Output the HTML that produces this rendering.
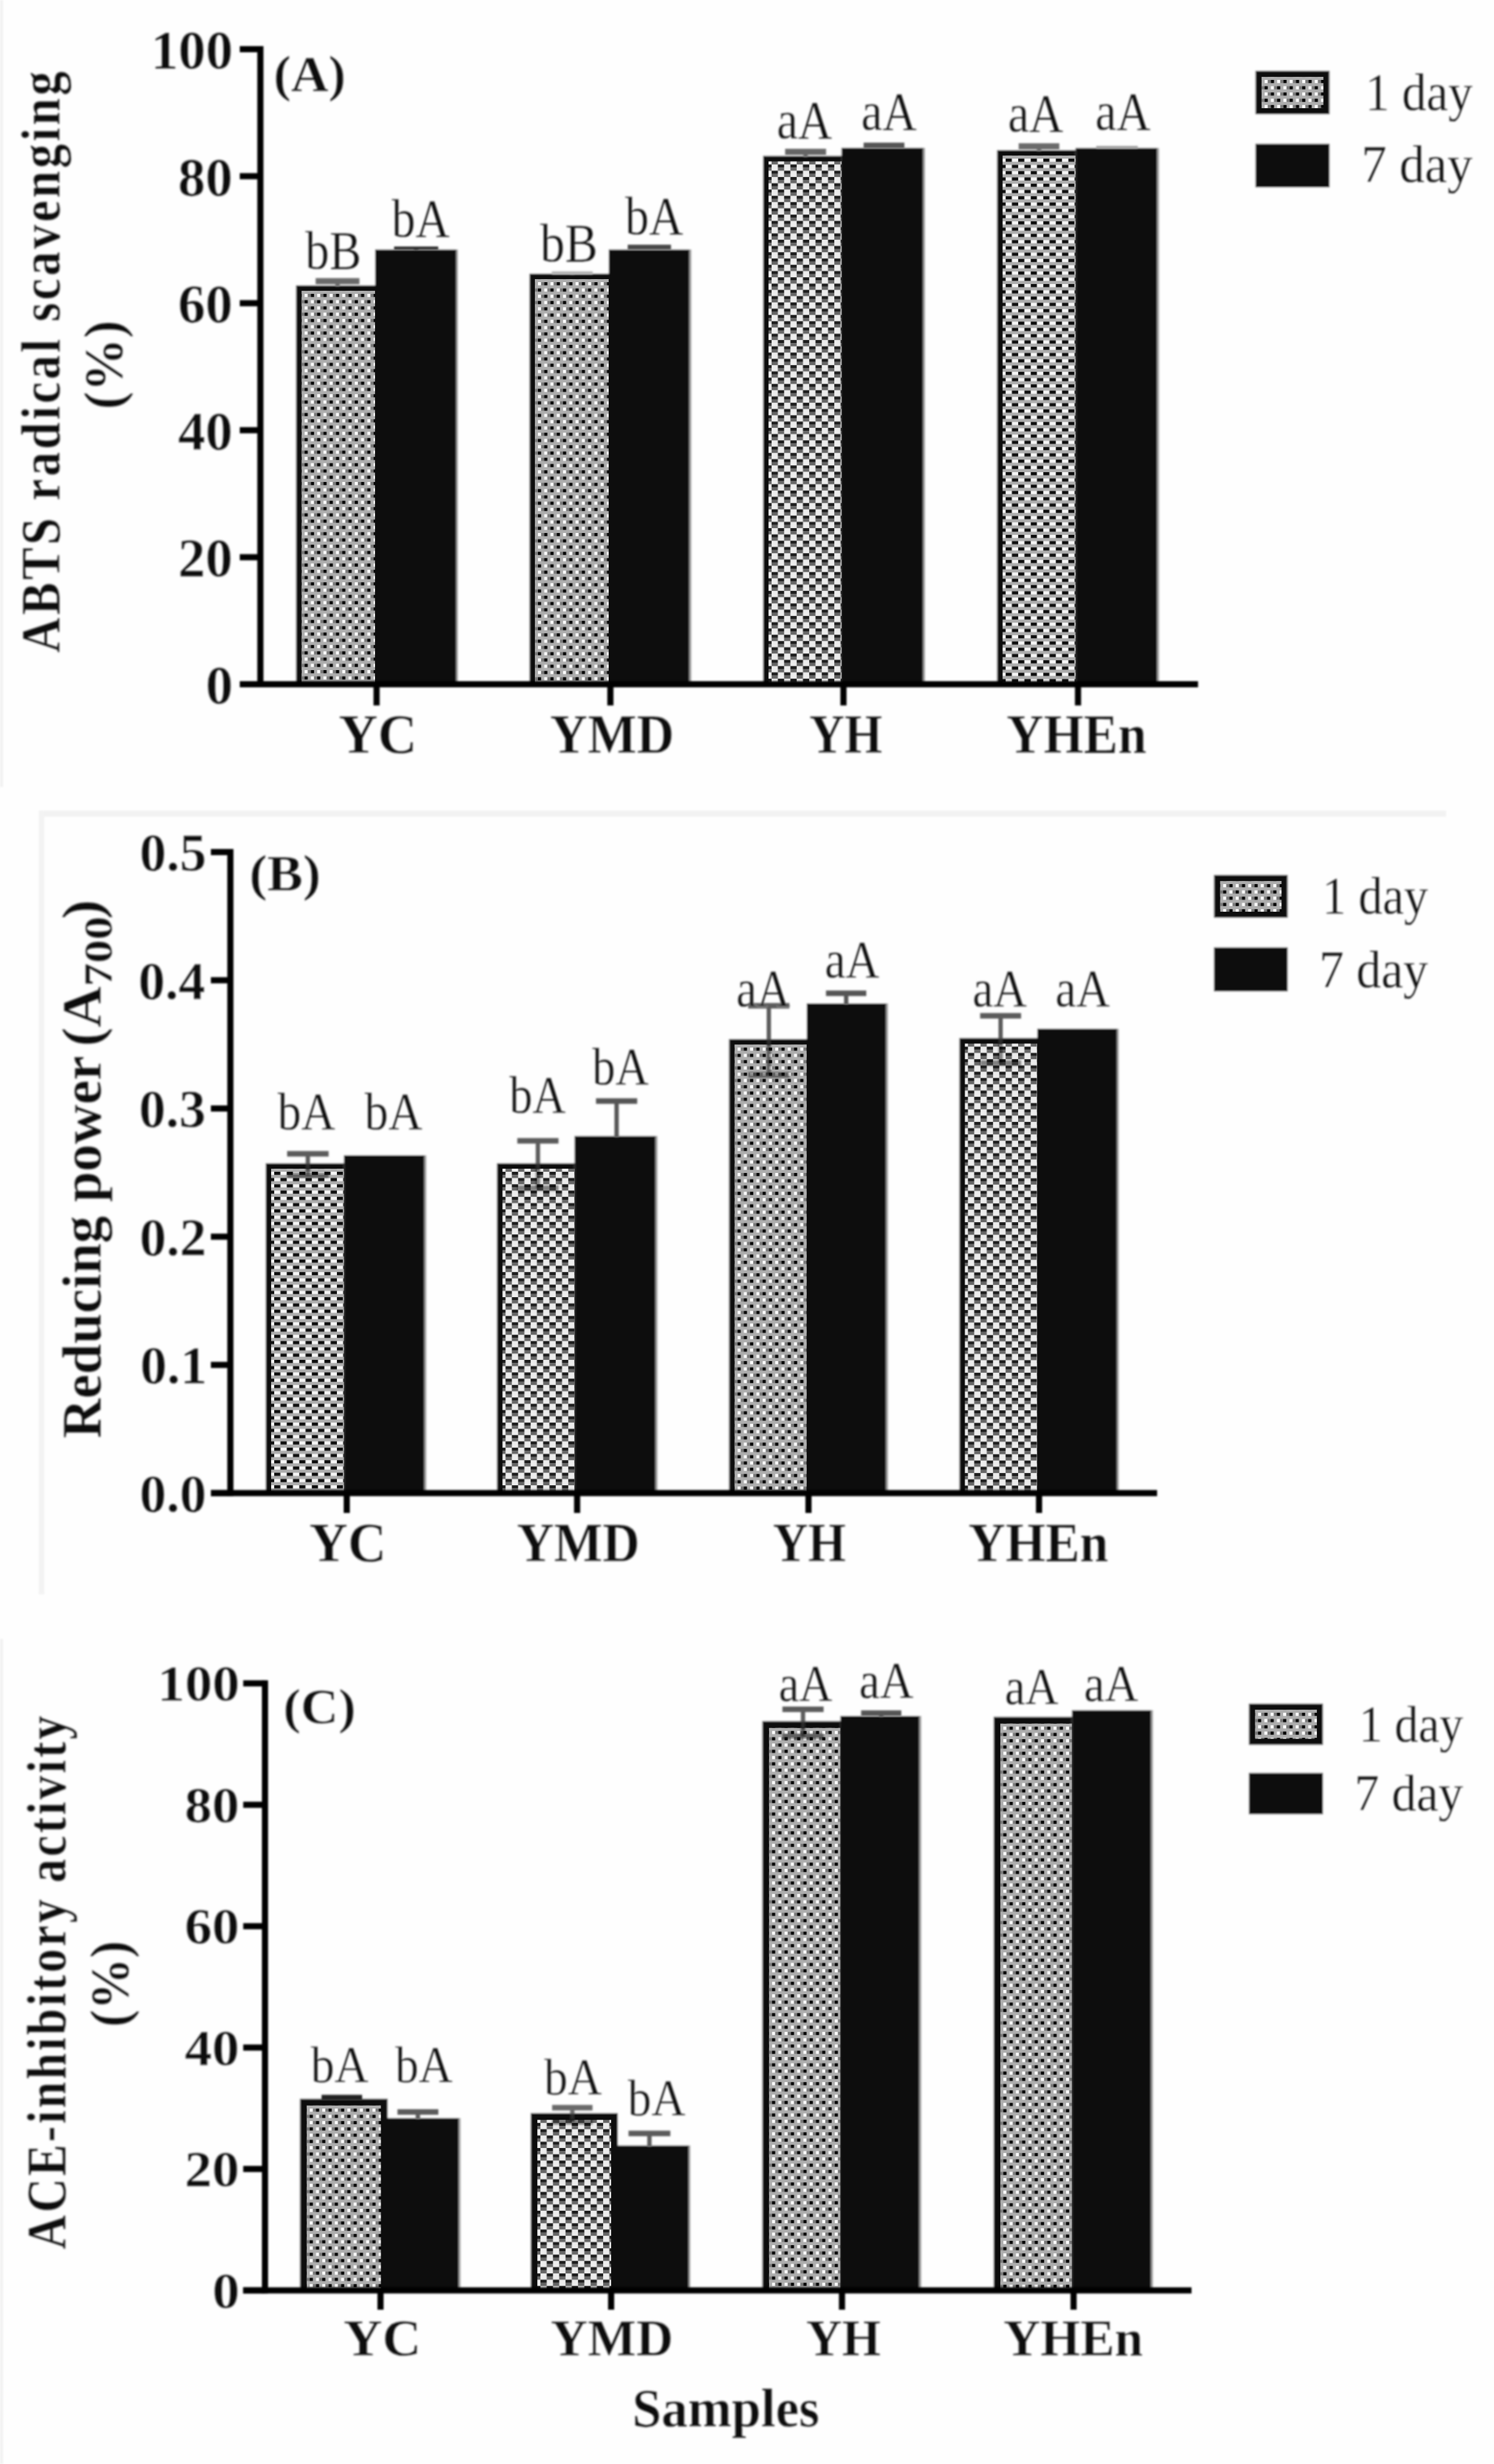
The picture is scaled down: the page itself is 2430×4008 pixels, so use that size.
<!DOCTYPE html>
<html><head><meta charset="utf-8"><title>Figure</title>
<style>html,body{margin:0;padding:0;background:#fefefe}svg{display:block}.b{font-weight:bold;stroke:#fefefe;stroke-width:0.4px}.r{stroke:#fefefe;stroke-width:0.3px}</style></head>
<body>
<svg width="2430" height="4008" viewBox="0 0 2430 4008" font-family="Liberation Serif, serif" fill="#0d0d0d">
<defs>
<pattern id="dots" width="20.4" height="20.4" patternUnits="userSpaceOnUse" x="5" y="5">
<rect width="20.4" height="20.4" fill="#adadad"/>
<rect x="0" y="0" width="5.1" height="5.1" fill="#fff"/><rect x="5.1" y="0" width="5.1" height="5.1" fill="#787878"/><rect x="10.2" y="0" width="5.1" height="5.1" fill="#000"/>
<rect x="0" y="10.2" width="5.1" height="5.1" fill="#000"/><rect x="10.2" y="10.2" width="5.1" height="5.1" fill="#fff"/><rect x="15.3" y="10.2" width="5.1" height="5.1" fill="#787878"/>
</pattern>
<pattern id="chk" width="20.4" height="20.4" patternUnits="userSpaceOnUse" x="5" y="5">
<rect width="20.4" height="20.4" fill="#ececec"/>
<rect x="10.2" y="0" width="10.2" height="5.1" fill="#1a1a1a"/><rect x="10.2" y="5.1" width="10.2" height="5.1" fill="#666"/>
<rect x="0" y="10.2" width="10.2" height="5.1" fill="#1a1a1a"/><rect x="0" y="15.3" width="10.2" height="5.1" fill="#666"/>
</pattern>
<pattern id="dash" width="20.4" height="20.4" patternUnits="userSpaceOnUse" x="5" y="5">
<rect width="20.4" height="20.4" fill="#adadad"/>
<rect x="0" y="0" width="10.2" height="5.1" fill="#111"/><rect x="10.2" y="0" width="10.2" height="5.1" fill="#f6f6f6"/>
<rect x="0" y="10.2" width="10.2" height="5.1" fill="#f6f6f6"/><rect x="10.2" y="10.2" width="10.2" height="5.1" fill="#111"/>
</pattern>
<filter id="soft" x="0" y="0" width="2430" height="4008" filterUnits="userSpaceOnUse"><feGaussianBlur stdDeviation="1.7"/></filter>
<filter id="soft2" x="0" y="0" width="2430" height="4008" filterUnits="userSpaceOnUse"><feGaussianBlur stdDeviation="0.55"/></filter>
</defs>
<rect width="2430" height="4008" fill="#fefefe"/>
<g filter="url(#soft)">
<rect width="2430" height="4008" fill="#fefefe"/>
<rect x="0" y="0" width="5" height="1280" fill="#f1f1f1"/>
<rect x="63" y="1318.5" width="2289" height="10" fill="#f2f2f2"/>
<rect x="63" y="1318.5" width="9" height="1275" fill="#f3f3f3"/>
<rect x="0" y="2666" width="5" height="1342" fill="#f1f1f1"/>
<rect x="481.5" y="464" width="128.5" height="649" fill="#0a0a0a"/>
<rect x="610" y="405.8" width="132" height="707.2" fill="#0a0a0a"/>
<rect x="742" y="405.8" width="3" height="707.2" fill="#999"/>
<rect x="861" y="445" width="129" height="668" fill="#0a0a0a"/>
<rect x="990" y="405.8" width="131.5" height="707.2" fill="#0a0a0a"/>
<rect x="1121.5" y="405.8" width="3" height="707.2" fill="#999"/>
<rect x="1241" y="253.5" width="127.7" height="859.5" fill="#0a0a0a"/>
<rect x="1368.7" y="240.5" width="132.9" height="872.5" fill="#0a0a0a"/>
<rect x="1501.6" y="240.5" width="3" height="872.5" fill="#999"/>
<rect x="1621.7" y="244" width="127.7" height="869" fill="#0a0a0a"/>
<rect x="1749.4" y="240.7" width="132.9" height="872.3" fill="#0a0a0a"/>
<rect x="1882.3" y="240.7" width="3" height="872.3" fill="#999"/>
<rect x="2041.9" y="115" width="120.6" height="71" fill="#0a0a0a"/>
<rect x="2041.9" y="233.8" width="120.6" height="71" fill="#0a0a0a"/>
<rect x="432" y="1892" width="127.4" height="536.7" fill="#0a0a0a"/>
<rect x="559.4" y="1879.2" width="131.1" height="549.5" fill="#0a0a0a"/>
<rect x="690.5" y="1879.2" width="3" height="549.5" fill="#999"/>
<rect x="808.3" y="1892" width="126.2" height="536.7" fill="#0a0a0a"/>
<rect x="934.5" y="1847.8" width="132" height="580.9" fill="#0a0a0a"/>
<rect x="1066.5" y="1847.8" width="3" height="580.9" fill="#999"/>
<rect x="1185.7" y="1690" width="126.3" height="738.7" fill="#0a0a0a"/>
<rect x="1312" y="1632" width="129.5" height="796.7" fill="#0a0a0a"/>
<rect x="1441.5" y="1632" width="3" height="796.7" fill="#999"/>
<rect x="1560.4" y="1688.5" width="126.6" height="740.2" fill="#0a0a0a"/>
<rect x="1687" y="1673.4" width="129.8" height="755.3" fill="#0a0a0a"/>
<rect x="1816.8" y="1673.4" width="3" height="755.3" fill="#999"/>
<rect x="1974.5" y="1423.1" width="119.9" height="69.9" fill="#0a0a0a"/>
<rect x="1974.5" y="1540.9" width="119.9" height="71.7" fill="#0a0a0a"/>
<rect x="487.8" y="3413.8" width="142.7" height="311.8" fill="#0a0a0a"/>
<rect x="619.5" y="3445.3" width="126.7" height="280.3" fill="#0a0a0a"/>
<rect x="746.2" y="3445.3" width="3" height="280.3" fill="#999"/>
<rect x="863" y="3437.2" width="142" height="288.4" fill="#0a0a0a"/>
<rect x="994" y="3489.8" width="126" height="235.8" fill="#0a0a0a"/>
<rect x="1120" y="3489.8" width="3" height="235.8" fill="#999"/>
<rect x="1239.8" y="2799.6" width="127" height="926" fill="#0a0a0a"/>
<rect x="1366.8" y="2791.2" width="128.7" height="934.4" fill="#0a0a0a"/>
<rect x="1495.5" y="2791.2" width="3" height="934.4" fill="#999"/>
<rect x="1616" y="2792.6" width="127.5" height="933" fill="#0a0a0a"/>
<rect x="1743.5" y="2781.8" width="128.9" height="943.8" fill="#0a0a0a"/>
<rect x="1872.4" y="2781.8" width="3" height="943.8" fill="#999"/>
<rect x="2031.3" y="2771" width="120.6" height="67.3" fill="#0a0a0a"/>
<rect x="2031.3" y="2883.8" width="120.6" height="67.4" fill="#0a0a0a"/>
</g>
<g filter="url(#soft2)">
<rect transform="translate(490.5,473)" width="119.5" height="640" fill="url(#dots)"/>
<rect transform="translate(870,454)" width="120" height="659" fill="url(#dots)"/>
<rect transform="translate(1250,262.5)" width="118.7" height="850.5" fill="url(#chk)"/>
<rect transform="translate(1630.7,253)" width="118.7" height="860" fill="url(#dash)"/>
<rect transform="translate(2051.9,125)" width="100.6" height="51" fill="url(#dots)"/>
<rect transform="translate(441,1901)" width="118.4" height="527.7" fill="url(#dash)"/>
<rect transform="translate(817.3,1901)" width="117.2" height="527.7" fill="url(#chk)"/>
<rect transform="translate(1194.7,1699)" width="117.3" height="729.7" fill="url(#dots)"/>
<rect transform="translate(1569.4,1697.5)" width="117.6" height="731.2" fill="url(#chk)"/>
<rect transform="translate(1984.5,1433.1)" width="99.9" height="49.9" fill="url(#dots)"/>
<rect transform="translate(498.8,3424.8)" width="120.7" height="300.8" fill="url(#dots)"/>
<rect transform="translate(874,3448.2)" width="120" height="277.4" fill="url(#chk)"/>
<rect transform="translate(1250.8,2810.6)" width="116" height="915" fill="url(#dots)"/>
<rect transform="translate(1627,2803.6)" width="116.5" height="922" fill="url(#dots)"/>
<rect transform="translate(2041.3,2781)" width="100.6" height="47.3" fill="url(#dots)"/>
</g>
<g filter="url(#soft)">
<rect x="513.4" y="452.4" width="71.2" height="10" fill="#6a6a6a"/>
<rect x="545.5" y="457.4" width="7" height="8.6" fill="#6a6a6a"/>
<rect x="641" y="401" width="71.8" height="5" fill="#2a2a2a"/>
<rect x="673.4" y="403.5" width="7" height="3.5" fill="#2a2a2a"/>
<rect x="897.5" y="441.5" width="66.5" height="5" fill="#b0b0b0"/>
<rect x="927.2" y="444" width="7" height="3" fill="#b0b0b0"/>
<rect x="1021" y="398" width="70.4" height="8" fill="#4a4a4a"/>
<rect x="1052.7" y="402" width="7" height="4" fill="#4a4a4a"/>
<rect x="1277" y="242" width="66.6" height="10" fill="#666"/>
<rect x="1306.8" y="247" width="7" height="8.5" fill="#666"/>
<rect x="1404.7" y="232" width="66.3" height="9" fill="#555"/>
<rect x="1434.3" y="236.5" width="7" height="4.5" fill="#555"/>
<rect x="1656.9" y="233" width="66.1" height="10" fill="#6a6a6a"/>
<rect x="1686.5" y="238" width="7" height="8" fill="#6a6a6a"/>
<rect x="1783" y="237.5" width="67.6" height="4" fill="#999"/>
<rect x="1813.3" y="239.5" width="7" height="1.5" fill="#999"/>
<rect x="418.5" y="75" width="10" height="1043" fill="#000"/>
<rect x="390" y="1108" width="1558.6" height="10" fill="#000"/>
<rect x="390" y="1108" width="33.5" height="10" fill="#000"/>
<text transform="translate(334.5,1144) scale(1.0000,1)" font-size="89" class="b">0</text>
<rect x="390" y="901.4" width="33.5" height="10" fill="#000"/>
<text transform="translate(289.5,937.4) scale(1.0000,1)" font-size="89" class="b">20</text>
<rect x="390" y="694.8" width="33.5" height="10" fill="#000"/>
<text transform="translate(289.5,730.8) scale(1.0000,1)" font-size="89" class="b">40</text>
<rect x="390" y="488.2" width="33.5" height="10" fill="#000"/>
<text transform="translate(289.5,524.2) scale(1.0000,1)" font-size="89" class="b">60</text>
<rect x="390" y="281.6" width="33.5" height="10" fill="#000"/>
<text transform="translate(289.5,317.6) scale(1.0000,1)" font-size="89" class="b">80</text>
<rect x="390" y="75" width="33.5" height="10" fill="#000"/>
<text transform="translate(245.5,111) scale(1.0000,1)" font-size="89" class="b">100</text>
<rect x="607.5" y="1113" width="10" height="34.5" fill="#000"/>
<rect x="987.8" y="1113" width="10" height="34.5" fill="#000"/>
<rect x="1366.9" y="1113" width="10" height="34.5" fill="#000"/>
<rect x="1748.4" y="1113" width="10" height="34.5" fill="#000"/>
<text transform="translate(550.7,1224.5) scale(0.9818,1)" font-size="90" class="b">YC</text>
<text transform="translate(894.5,1224.5) scale(0.9407,1)" font-size="90" class="b">YMD</text>
<text transform="translate(1316.2,1224.5) scale(0.8826,1)" font-size="90" class="b">YH</text>
<text transform="translate(1637.1,1224.5) scale(0.9298,1)" font-size="90" class="b">YHEn</text>
<text transform="translate(496.6,437) scale(0.8878,1)" font-size="88" class="r">bB</text>
<text transform="translate(637,385.4) scale(0.8785,1)" font-size="88" class="r">bA</text>
<text transform="translate(878.5,425) scale(0.9133,1)" font-size="88" class="r">bB</text>
<text transform="translate(1016.7,380.7) scale(0.8813,1)" font-size="88" class="r">bA</text>
<text transform="translate(1263.4,225.3) scale(0.8788,1)" font-size="88" class="r">aA</text>
<text transform="translate(1400.8,210.8) scale(0.8808,1)" font-size="88" class="r">aA</text>
<text transform="translate(1639.4,214.2) scale(0.8788,1)" font-size="88" class="r">aA</text>
<text transform="translate(1781.4,210.8) scale(0.8788,1)" font-size="88" class="r">aA</text>
<text transform="translate(445.1,148.4) scale(1.0318,1)" font-size="82" class="b">(A)</text>
<text transform="translate(2220.5,178.8) scale(0.9264,1)" font-size="86" class="r">1 day</text>
<text transform="translate(2214.2,296) scale(0.9596,1)" font-size="86" class="r">7 day</text>
<rect x="467" y="1872.3" width="67.5" height="9" fill="#5c5c5c"/>
<rect x="497.2" y="1876.8" width="7" height="17.2" fill="#5c5c5c"/>
<rect x="497.2" y="1893" width="7" height="9" fill="#2a2a2a"/>
<rect x="497.2" y="1901" width="7" height="10.7" fill="#000" opacity="0.45"/>
<rect x="467" y="1907.2" width="67.5" height="9" fill="#000" opacity="0.45"/>
<rect x="841.4" y="1851.2" width="67" height="9" fill="#5c5c5c"/>
<rect x="871.4" y="1855.7" width="7" height="38.3" fill="#5c5c5c"/>
<rect x="871.4" y="1893" width="7" height="9" fill="#2a2a2a"/>
<rect x="871.4" y="1901" width="7" height="31.8" fill="#000" opacity="0.45"/>
<rect x="841.4" y="1928.3" width="67" height="9" fill="#000" opacity="0.45"/>
<rect x="969.4" y="1786.5" width="67" height="9" fill="#555"/>
<rect x="999.4" y="1791" width="7" height="59" fill="#555"/>
<rect x="1217" y="1631.5" width="67" height="9" fill="#5c5c5c"/>
<rect x="1247" y="1636" width="7" height="56" fill="#5c5c5c"/>
<rect x="1247" y="1691" width="7" height="9" fill="#2a2a2a"/>
<rect x="1247" y="1699" width="7" height="49.5" fill="#000" opacity="0.45"/>
<rect x="1217" y="1744" width="67" height="9" fill="#000" opacity="0.45"/>
<rect x="1343.5" y="1611.2" width="65.5" height="9" fill="#555"/>
<rect x="1372.8" y="1615.7" width="7" height="18.3" fill="#555"/>
<rect x="1594.2" y="1647.8" width="66.6" height="9" fill="#5c5c5c"/>
<rect x="1624" y="1652.3" width="7" height="38.2" fill="#5c5c5c"/>
<rect x="1624" y="1689.5" width="7" height="9" fill="#2a2a2a"/>
<rect x="1624" y="1697.5" width="7" height="31.7" fill="#000" opacity="0.45"/>
<rect x="1594.2" y="1724.7" width="66.6" height="9" fill="#000" opacity="0.45"/>
<rect x="369.7" y="1381" width="10" height="1052.7" fill="#000"/>
<rect x="343" y="2423.7" width="1539" height="10" fill="#000"/>
<rect x="343" y="2423.7" width="31.7" height="10" fill="#000"/>
<text transform="translate(227,2458.7) scale(1.0000,1)" font-size="87" class="b">0.0</text>
<rect x="343" y="2215.2" width="31.7" height="10" fill="#000"/>
<text transform="translate(228,2250.2) scale(1.0000,1)" font-size="87" class="b">0.1</text>
<rect x="343" y="2006.6" width="31.7" height="10" fill="#000"/>
<text transform="translate(227,2041.6) scale(1.0000,1)" font-size="87" class="b">0.2</text>
<rect x="343" y="1798.1" width="31.7" height="10" fill="#000"/>
<text transform="translate(226,1833.1) scale(1.0000,1)" font-size="87" class="b">0.3</text>
<rect x="343" y="1589.5" width="31.7" height="10" fill="#000"/>
<text transform="translate(225,1624.5) scale(1.0000,1)" font-size="87" class="b">0.4</text>
<rect x="343" y="1381" width="31.7" height="10" fill="#000"/>
<text transform="translate(227,1416) scale(1.0000,1)" font-size="87" class="b">0.5</text>
<rect x="559" y="2428.7" width="10" height="32.3" fill="#000"/>
<rect x="933.7" y="2428.7" width="10" height="32.3" fill="#000"/>
<rect x="1310" y="2428.7" width="10" height="32.3" fill="#000"/>
<rect x="1685" y="2428.7" width="10" height="32.3" fill="#000"/>
<text transform="translate(503.1,2539.5) scale(0.9645,1)" font-size="90" class="b">YC</text>
<text transform="translate(840.4,2539.5) scale(0.9316,1)" font-size="90" class="b">YMD</text>
<text transform="translate(1257,2539.5) scale(0.8826,1)" font-size="90" class="b">YH</text>
<text transform="translate(1575,2539.5) scale(0.9293,1)" font-size="90" class="b">YHEn</text>
<text transform="translate(451.6,1837) scale(0.8830,1)" font-size="87" class="r">bA</text>
<text transform="translate(593,1837) scale(0.8868,1)" font-size="87" class="r">bA</text>
<text transform="translate(828.4,1810.3) scale(0.8642,1)" font-size="87" class="r">bA</text>
<text transform="translate(963.3,1764.3) scale(0.8651,1)" font-size="87" class="r">bA</text>
<text transform="translate(1197.6,1637.3) scale(0.8653,1)" font-size="87" class="r">aA</text>
<text transform="translate(1341.4,1590.4) scale(0.8776,1)" font-size="87" class="r">aA</text>
<text transform="translate(1581.8,1637.3) scale(0.8735,1)" font-size="87" class="r">aA</text>
<text transform="translate(1716.4,1637.3) scale(0.8776,1)" font-size="87" class="r">aA</text>
<text transform="translate(405.5,1448.4) scale(1.0637,1)" font-size="82" class="b">(B)</text>
<text transform="translate(2150.6,1486) scale(0.9121,1)" font-size="86" class="r">1 day</text>
<text transform="translate(2145.4,1605.5) scale(0.9399,1)" font-size="86" class="r">7 day</text>
<rect x="523" y="3407.5" width="66" height="9" fill="#222"/>
<rect x="552.5" y="3412" width="7" height="3.8" fill="#222"/>
<rect x="646.5" y="3430.9" width="66.5" height="9" fill="#5c5c5c"/>
<rect x="676.2" y="3435.4" width="7" height="11.6" fill="#5c5c5c"/>
<rect x="898" y="3423.9" width="65.7" height="9" fill="#6a6a6a"/>
<rect x="927.4" y="3428.4" width="7" height="10.8" fill="#6a6a6a"/>
<rect x="927.4" y="3438.2" width="7" height="11" fill="#2a2a2a"/>
<rect x="927.4" y="3448.2" width="7" height="3.3" fill="#000" opacity="0.45"/>
<rect x="898" y="3447" width="65.7" height="9" fill="#000" opacity="0.45"/>
<rect x="1022.3" y="3465.8" width="68" height="9" fill="#5c5c5c"/>
<rect x="1052.8" y="3470.3" width="7" height="21.7" fill="#5c5c5c"/>
<rect x="1272.6" y="2775.9" width="67" height="9" fill="#5c5c5c"/>
<rect x="1302.6" y="2780.4" width="7" height="21.2" fill="#5c5c5c"/>
<rect x="1302.6" y="2800.6" width="7" height="11" fill="#2a2a2a"/>
<rect x="1302.6" y="2810.6" width="7" height="13.7" fill="#000" opacity="0.45"/>
<rect x="1272.6" y="2819.8" width="67" height="9" fill="#000" opacity="0.45"/>
<rect x="1400.6" y="2782.1" width="65.4" height="9" fill="#555"/>
<rect x="1429.8" y="2786.6" width="7" height="6.4" fill="#555"/>
<rect x="426" y="2733.2" width="10" height="997.4" fill="#000"/>
<rect x="395.6" y="3720.6" width="1542.4" height="10" fill="#000"/>
<rect x="395.6" y="3720.6" width="35.4" height="10" fill="#000"/>
<text transform="translate(345.3,3753.6) scale(1.0750,1)" font-size="83" class="b">0</text>
<rect x="395.6" y="3523.1" width="35.4" height="10" fill="#000"/>
<text transform="translate(300.2,3556.1) scale(1.0750,1)" font-size="83" class="b">20</text>
<rect x="395.6" y="3325.6" width="35.4" height="10" fill="#000"/>
<text transform="translate(300.2,3358.6) scale(1.0750,1)" font-size="83" class="b">40</text>
<rect x="395.6" y="3128.2" width="35.4" height="10" fill="#000"/>
<text transform="translate(300.2,3161.2) scale(1.0750,1)" font-size="83" class="b">60</text>
<rect x="395.6" y="2930.7" width="35.4" height="10" fill="#000"/>
<text transform="translate(300.2,2963.7) scale(1.0750,1)" font-size="83" class="b">80</text>
<rect x="395.6" y="2733.2" width="35.4" height="10" fill="#000"/>
<text transform="translate(256.1,2766.2) scale(1.0750,1)" font-size="83" class="b">100</text>
<rect x="613.9" y="3725.6" width="10" height="31.4" fill="#000"/>
<rect x="989" y="3725.6" width="10" height="31.4" fill="#000"/>
<rect x="1364.5" y="3725.6" width="10" height="31.4" fill="#000"/>
<rect x="1741.2" y="3725.6" width="10" height="31.4" fill="#000"/>
<text transform="translate(558.4,3831.5) scale(1.0313,1)" font-size="85" class="b">YC</text>
<text transform="translate(895.4,3831.5) scale(0.9838,1)" font-size="85" class="b">YMD</text>
<text transform="translate(1311,3831.5) scale(0.9544,1)" font-size="85" class="b">YH</text>
<text transform="translate(1632,3831.5) scale(0.9817,1)" font-size="85" class="b">YHEn</text>
<text transform="translate(505.5,3386.7) scale(0.9048,1)" font-size="85" class="r">bA</text>
<text transform="translate(642.8,3386.7) scale(0.9000,1)" font-size="85" class="r">bA</text>
<text transform="translate(885,3406.8) scale(0.9038,1)" font-size="85" class="r">bA</text>
<text transform="translate(1021,3440.6) scale(0.9038,1)" font-size="85" class="r">bA</text>
<text transform="translate(1266.4,2766.8) scale(0.8812,1)" font-size="85" class="r">aA</text>
<text transform="translate(1397.3,2762.2) scale(0.8937,1)" font-size="85" class="r">aA</text>
<text transform="translate(1634.2,2771.5) scale(0.8823,1)" font-size="85" class="r">aA</text>
<text transform="translate(1763,2766.8) scale(0.8917,1)" font-size="85" class="r">aA</text>
<text transform="translate(460.8,2802.5) scale(1.0625,1)" font-size="80" class="b">(C)</text>
<text transform="translate(2210.3,2833) scale(0.9209,1)" font-size="84" class="r">1 day</text>
<text transform="translate(2203,2944.8) scale(0.9603,1)" font-size="84" class="r">7 day</text>
<text transform="translate(97,1061.6) rotate(-90) scale(0.8585,1)" font-size="92" class="b" letter-spacing="5.00">ABTS radical scavenging</text>
<text transform="translate(198,666) rotate(-90) scale(0.9884,1)" font-size="88" class="b">(%)</text>
<text class="b" transform="translate(163.8,2338.6) rotate(-90)"><tspan x="-1" dy="0" font-size="90" textLength="622.1" lengthAdjust="spacingAndGlyphs">Reducing power</tspan><tspan x="636.5" dy="0" font-size="90" textLength="97.5" lengthAdjust="spacingAndGlyphs">(A</tspan><tspan x="733.9" dy="18" font-size="65" textLength="114" lengthAdjust="spacingAndGlyphs">700</tspan><tspan x="843.4" dy="-18" font-size="90" textLength="31.8" lengthAdjust="spacingAndGlyphs">)</tspan></text>
<text transform="translate(106.5,3658.6) rotate(-90) scale(0.8467,1)" font-size="91" class="b" letter-spacing="4.65">ACE-inhibitory activity</text>
<text transform="translate(208,3297.2) rotate(-90) scale(0.9580,1)" font-size="88" class="b">(%)</text>
<text transform="translate(1028.2,3947) scale(0.9739,1)" font-size="88" class="b">Samples</text>
</g>
</svg>
</body></html>
